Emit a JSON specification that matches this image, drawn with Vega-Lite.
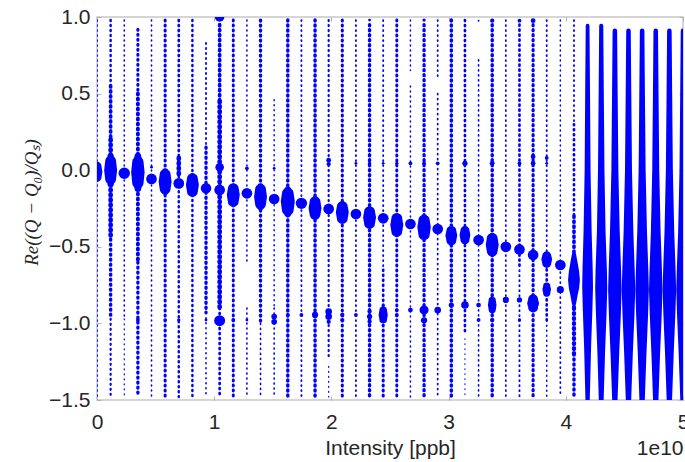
{
 "$schema": "https://vega.github.io/schema/vega-lite/v6.json",
 "width": 586, "height": 383,
 "autosize": {"type": "none"},
 "padding": {"left": 97, "top": 17, "right": 2, "bottom": 62},
 "background": "white",
 "config": {
  "view": {"stroke": "#c8c8c8", "strokeWidth": 1.5},
  "axis": {"grid": false, "domain": false, "labelFlush": false, "labelOverlap": false, "labelFont": "Liberation Sans, Arial, sans-serif", "labelFontSize": 21, "labelColor": "#262626", "titleFont": "Liberation Sans, Arial, sans-serif", "titleFontSize": 21, "titleColor": "#262626", "titleFontWeight": "normal", "tickColor": "#b0b0b0", "tickSize": -4, "tickWidth": 1}
 },
 "datasets": {
  "seg": [
   {"x":0,"y":0.98,"y2":-1.48,"n":15},
   {"x":0.1163,"y":0.98,"y2":0.55,"n":20},{"x":0.1163,"y":0.55,"y2":0.2,"n":30},{"x":0.1163,"y":0.2,"y2":-0.45,"n":38},{"x":0.1163,"y":-0.45,"y2":-0.97,"n":28},{"x":0.1163,"y":-0.97,"y2":-1.48,"n":18},
   {"x":0.2326,"y":0.98,"y2":-0.97,"n":13},{"x":0.2326,"y":-0.97,"y2":-1.48,"n":10},
   {"x":0.3488,"y":0.92,"y2":0.5,"n":25},{"x":0.3488,"y":0.5,"y2":-0.6,"n":32},{"x":0.3488,"y":-0.6,"y2":-1.48,"n":27},
   {"x":0.4651,"y":0.98,"y2":-1.48,"n":13},
   {"x":0.5814,"y":0.98,"y2":-1.48,"n":25},
   {"x":0.6977,"y":0.98,"y2":0.08,"n":22},{"x":0.6977,"y":0.08,"y2":-0.04,"n":38},{"x":0.6977,"y":-0.04,"y2":-1.48,"n":20},
   {"x":0.814,"y":0.98,"y2":-1.48,"n":20},
   {"x":0.9302,"y":0.83,"y2":0.15,"n":15},{"x":0.9302,"y":0.15,"y2":-0.93,"n":27},{"x":0.9302,"y":-0.93,"y2":-1.48,"n":13},
   {"x":1.0465,"y":0.95,"y2":0.45,"n":30},{"x":1.0465,"y":0.45,"y2":-0.9,"n":38},{"x":1.0465,"y":-0.9,"y2":-1.48,"n":22},
   {"x":1.1628,"y":0.98,"y2":-1.48,"n":24},
   {"x":1.2791,"y":0.98,"y2":-0.6,"n":13},{"x":1.2791,"y":-0.9,"y2":-1.48,"n":13},
   {"x":1.3953,"y":0.98,"y2":-1.0,"n":27},{"x":1.3953,"y":-1.0,"y2":-1.48,"n":13},
   {"x":1.5116,"y":0.46,"y2":-0.9,"n":12},{"x":1.5116,"y":-0.9,"y2":-1.48,"n":13},
   {"x":1.6279,"y":0.98,"y2":-1.48,"n":28},
   {"x":1.7442,"y":0.98,"y2":-1.48,"n":15},
   {"x":1.8605,"y":0.98,"y2":-1.48,"n":28},
   {"x":1.9767,"y":0.98,"y2":-1.22,"n":18},{"x":1.9767,"y":-1.28,"y2":-1.48,"n":10},
   {"x":2.093,"y":0.98,"y2":-1.48,"n":25},
   {"x":2.2093,"y":0.98,"y2":-1.48,"n":15},
   {"x":2.3256,"y":0.95,"y2":-1.48,"n":28},
   {"x":2.4419,"y":0.98,"y2":-0.65,"n":15},{"x":2.4419,"y":-0.65,"y2":-0.88,"n":22},{"x":2.4419,"y":-0.88,"y2":-1.48,"n":25},
   {"x":2.5581,"y":0.98,"y2":-1.48,"n":24},
   {"x":2.6744,"y":0.98,"y2":0.65,"n":12},{"x":2.6744,"y":0.55,"y2":-1.48,"n":12},
   {"x":2.7907,"y":0.95,"y2":-1.48,"n":27},
   {"x":2.907,"y":0.98,"y2":0.6,"n":14},{"x":2.907,"y":0.5,"y2":-1.48,"n":14},
   {"x":3.0233,"y":0.98,"y2":-1.48,"n":28},
   {"x":3.1395,"y":0.98,"y2":-1.05,"n":22},{"x":3.1395,"y":-1.1,"y2":-1.48,"n":8},
   {"x":3.2558,"y":0.72,"y2":-1.48,"n":13},
   {"x":3.3721,"y":0.95,"y2":-1.48,"n":28},
   {"x":3.4884,"y":0.98,"y2":-1.48,"n":14},
   {"x":3.6047,"y":0.95,"y2":-0.62,"n":22},{"x":3.6047,"y":-0.62,"y2":-1.48,"n":15},
   {"x":3.7209,"y":0.95,"y2":-1.48,"n":26},
   {"x":3.8372,"y":0.98,"y2":-0.55,"n":15},{"x":3.8372,"y":-0.55,"y2":-0.98,"n":22},{"x":3.8372,"y":-0.98,"y2":-1.48,"n":12},
   {"x":3.9535,"y":0.98,"y2":-0.6,"n":12},{"x":3.9535,"y":-0.6,"y2":-1.48,"n":14},
   {"x":4.0698,"y":0.98,"y2":0.3,"n":15},{"x":4.0698,"y":0.3,"y2":-0.3,"n":22},{"x":4.0698,"y":-0.3,"y2":-0.9,"n":30},{"x":4.0698,"y":-0.9,"y2":-1.2,"n":35},{"x":4.0698,"y":-1.2,"y2":-1.48,"n":28}
  ],
  "trail": [
   {"g":"c0","x":0,"y":0.04,"n":50},{"g":"c0","x":0,"y":0.026,"n":84},{"g":"c0","x":0,"y":-0.01,"n":100},{"g":"c0","x":0,"y":-0.046,"n":84},{"g":"c0","x":0,"y":-0.059,"n":50},
   {"g":"c1","x":0.1163,"y":0.09,"n":60},{"g":"c1","x":0.1163,"y":0.06,"n":101},{"g":"c1","x":0.1163,"y":0.0,"n":120},{"g":"c1","x":0.1163,"y":-0.059,"n":101},{"g":"c1","x":0.1163,"y":-0.088,"n":60},
   {"g":"c3","x":0.3488,"y":0.09,"n":62},{"g":"c3","x":0.3488,"y":0.054,"n":105},{"g":"c3","x":0.3488,"y":-0.014,"n":125},{"g":"c3","x":0.3488,"y":-0.083,"n":105},{"g":"c3","x":0.3488,"y":-0.12,"n":62},
   {"g":"c5","x":0.5814,"y":-0.008,"n":60},{"g":"c5","x":0.5814,"y":-0.027,"n":101},{"g":"c5","x":0.5814,"y":-0.075,"n":120},{"g":"c5","x":0.5814,"y":-0.122,"n":101},{"g":"c5","x":0.5814,"y":-0.14,"n":60},
   {"g":"c7","x":0.814,"y":-0.04,"n":60},{"g":"c7","x":0.814,"y":-0.055,"n":101},{"g":"c7","x":0.814,"y":-0.097,"n":120},{"g":"c7","x":0.814,"y":-0.139,"n":101},{"g":"c7","x":0.814,"y":-0.153,"n":60},
   {"g":"c10","x":1.1628,"y":-0.106,"n":60},{"g":"c10","x":1.1628,"y":-0.12,"n":101},{"g":"c10","x":1.1628,"y":-0.162,"n":120},{"g":"c10","x":1.1628,"y":-0.204,"n":101},{"g":"c10","x":1.1628,"y":-0.218,"n":60},
   {"g":"c12","x":1.3953,"y":-0.106,"n":60},{"g":"c12","x":1.3953,"y":-0.125,"n":101},{"g":"c12","x":1.3953,"y":-0.173,"n":120},{"g":"c12","x":1.3953,"y":-0.221,"n":101},{"g":"c12","x":1.3953,"y":-0.24,"n":60},
   {"g":"c14","x":1.6279,"y":-0.129,"n":65},{"g":"c14","x":1.6279,"y":-0.152,"n":109},{"g":"c14","x":1.6279,"y":-0.205,"n":130},{"g":"c14","x":1.6279,"y":-0.259,"n":109},{"g":"c14","x":1.6279,"y":-0.283,"n":65},
   {"g":"c16","x":1.8605,"y":-0.19,"n":60},{"g":"c16","x":1.8605,"y":-0.206,"n":101},{"g":"c16","x":1.8605,"y":-0.249,"n":120},{"g":"c16","x":1.8605,"y":-0.288,"n":101},{"g":"c16","x":1.8605,"y":-0.3,"n":60},
   {"g":"c18","x":2.093,"y":-0.225,"n":60},{"g":"c18","x":2.093,"y":-0.237,"n":101},{"g":"c18","x":2.093,"y":-0.275,"n":120},{"g":"c18","x":2.093,"y":-0.315,"n":101},{"g":"c18","x":2.093,"y":-0.327,"n":60},
   {"g":"c20","x":2.3256,"y":-0.258,"n":60},{"g":"c20","x":2.3256,"y":-0.27,"n":101},{"g":"c20","x":2.3256,"y":-0.308,"n":120},{"g":"c20","x":2.3256,"y":-0.348,"n":101},{"g":"c20","x":2.3256,"y":-0.36,"n":60},
   {"g":"c21b","x":2.4419,"y":-0.904,"n":43},{"g":"c21b","x":2.4419,"y":-0.915,"n":71},{"g":"c21b","x":2.4419,"y":-0.945,"n":85},{"g":"c21b","x":2.4419,"y":-0.975,"n":71},{"g":"c21b","x":2.4419,"y":-0.986,"n":43},
   {"g":"c22","x":2.5581,"y":-0.3,"n":60},{"g":"c22","x":2.5581,"y":-0.315,"n":101},{"g":"c22","x":2.5581,"y":-0.358,"n":120},{"g":"c22","x":2.5581,"y":-0.4,"n":101},{"g":"c22","x":2.5581,"y":-0.414,"n":60},
   {"g":"c24","x":2.7907,"y":-0.31,"n":62},{"g":"c24","x":2.7907,"y":-0.327,"n":105},{"g":"c24","x":2.7907,"y":-0.373,"n":125},{"g":"c24","x":2.7907,"y":-0.419,"n":105},{"g":"c24","x":2.7907,"y":-0.436,"n":62},
   {"g":"c26","x":3.0233,"y":-0.388,"n":55},{"g":"c26","x":3.0233,"y":-0.396,"n":92},{"g":"c26","x":3.0233,"y":-0.427,"n":110},{"g":"c26","x":3.0233,"y":-0.459,"n":92},{"g":"c26","x":3.0233,"y":-0.467,"n":55},
   {"g":"c27","x":3.1395,"y":-0.386,"n":50},{"g":"c27","x":3.1395,"y":-0.394,"n":84},{"g":"c27","x":3.1395,"y":-0.423,"n":100},{"g":"c27","x":3.1395,"y":-0.454,"n":84},{"g":"c27","x":3.1395,"y":-0.464,"n":50},
   {"g":"c29","x":3.3721,"y":-0.43,"n":60},{"g":"c29","x":3.3721,"y":-0.445,"n":101},{"g":"c29","x":3.3721,"y":-0.488,"n":120},{"g":"c29","x":3.3721,"y":-0.528,"n":101},{"g":"c29","x":3.3721,"y":-0.54,"n":60},
   {"g":"c29b","x":3.3721,"y":-0.839,"n":40},{"g":"c29b","x":3.3721,"y":-0.85,"n":67},{"g":"c29b","x":3.3721,"y":-0.88,"n":80},{"g":"c29b","x":3.3721,"y":-0.91,"n":67},{"g":"c29b","x":3.3721,"y":-0.921,"n":40},
   {"g":"c32b","x":3.7209,"y":-0.838,"n":55},{"g":"c32b","x":3.7209,"y":-0.842,"n":92},{"g":"c32b","x":3.7209,"y":-0.869,"n":110},{"g":"c32b","x":3.7209,"y":-0.897,"n":92},{"g":"c32b","x":3.7209,"y":-0.902,"n":55},
   {"g":"c33","x":3.8372,"y":-0.556,"n":50},{"g":"c33","x":3.8372,"y":-0.559,"n":84},{"g":"c33","x":3.8372,"y":-0.582,"n":100},{"g":"c33","x":3.8372,"y":-0.608,"n":84},{"g":"c33","x":3.8372,"y":-0.614,"n":50},
   {"g":"c33b","x":3.8372,"y":-0.753,"n":40},{"g":"c33b","x":3.8372,"y":-0.757,"n":67},{"g":"c33b","x":3.8372,"y":-0.777,"n":80},{"g":"c33b","x":3.8372,"y":-0.801,"n":67},{"g":"c33b","x":3.8372,"y":-0.807,"n":40},
   {"g":"c35","x":4.0698,"y":-0.55,"n":40},{"g":"c35","x":4.0698,"y":-0.6,"n":65},{"g":"c35","x":4.0698,"y":-0.66,"n":95},{"g":"c35","x":4.0698,"y":-0.717,"n":110},{"g":"c35","x":4.0698,"y":-0.77,"n":95},{"g":"c35","x":4.0698,"y":-0.82,"n":65},{"g":"c35","x":4.0698,"y":-0.87,"n":40},
   {"g":"c36","x":4.186,"y":0.943,"n":35},{"g":"c36","x":4.186,"y":0.5,"n":45},{"g":"c36","x":4.186,"y":0.0,"n":55},{"g":"c36","x":4.186,"y":-0.4,"n":75},{"g":"c36","x":4.186,"y":-0.65,"n":95},{"g":"c36","x":4.186,"y":-0.76,"n":100},{"g":"c36","x":4.186,"y":-0.9,"n":90},{"g":"c36","x":4.186,"y":-1.15,"n":65},{"g":"c36","x":4.186,"y":-1.5,"n":40},
   {"g":"c37","x":4.3023,"y":0.943,"n":38},{"g":"c37","x":4.3023,"y":0.5,"n":48},{"g":"c37","x":4.3023,"y":0.0,"n":60},{"g":"c37","x":4.3023,"y":-0.4,"n":80},{"g":"c37","x":4.3023,"y":-0.65,"n":105},{"g":"c37","x":4.3023,"y":-0.77,"n":112},{"g":"c37","x":4.3023,"y":-0.92,"n":100},{"g":"c37","x":4.3023,"y":-1.2,"n":70},{"g":"c37","x":4.3023,"y":-1.5,"n":45},
   {"g":"c38","x":4.4186,"y":0.91,"n":42},{"g":"c38","x":4.4186,"y":0.5,"n":52},{"g":"c38","x":4.4186,"y":0.0,"n":65},{"g":"c38","x":4.4186,"y":-0.4,"n":90},{"g":"c38","x":4.4186,"y":-0.65,"n":115},{"g":"c38","x":4.4186,"y":-0.78,"n":125},{"g":"c38","x":4.4186,"y":-0.95,"n":110},{"g":"c38","x":4.4186,"y":-1.2,"n":80},{"g":"c38","x":4.4186,"y":-1.5,"n":50},
   {"g":"c39","x":4.5349,"y":0.91,"n":42},{"g":"c39","x":4.5349,"y":0.5,"n":52},{"g":"c39","x":4.5349,"y":0.0,"n":65},{"g":"c39","x":4.5349,"y":-0.4,"n":90},{"g":"c39","x":4.5349,"y":-0.65,"n":115},{"g":"c39","x":4.5349,"y":-0.78,"n":125},{"g":"c39","x":4.5349,"y":-0.95,"n":110},{"g":"c39","x":4.5349,"y":-1.2,"n":80},{"g":"c39","x":4.5349,"y":-1.5,"n":50},
   {"g":"c40","x":4.6512,"y":0.91,"n":42},{"g":"c40","x":4.6512,"y":0.5,"n":52},{"g":"c40","x":4.6512,"y":0.0,"n":65},{"g":"c40","x":4.6512,"y":-0.4,"n":90},{"g":"c40","x":4.6512,"y":-0.65,"n":115},{"g":"c40","x":4.6512,"y":-0.78,"n":125},{"g":"c40","x":4.6512,"y":-0.95,"n":110},{"g":"c40","x":4.6512,"y":-1.2,"n":80},{"g":"c40","x":4.6512,"y":-1.5,"n":50},
   {"g":"c41","x":4.7674,"y":0.91,"n":42},{"g":"c41","x":4.7674,"y":0.5,"n":52},{"g":"c41","x":4.7674,"y":0.0,"n":65},{"g":"c41","x":4.7674,"y":-0.4,"n":90},{"g":"c41","x":4.7674,"y":-0.65,"n":115},{"g":"c41","x":4.7674,"y":-0.78,"n":125},{"g":"c41","x":4.7674,"y":-0.95,"n":110},{"g":"c41","x":4.7674,"y":-1.2,"n":80},{"g":"c41","x":4.7674,"y":-1.5,"n":50},
   {"g":"c42","x":4.8837,"y":0.91,"n":42},{"g":"c42","x":4.8837,"y":0.5,"n":52},{"g":"c42","x":4.8837,"y":0.0,"n":65},{"g":"c42","x":4.8837,"y":-0.4,"n":90},{"g":"c42","x":4.8837,"y":-0.65,"n":115},{"g":"c42","x":4.8837,"y":-0.78,"n":125},{"g":"c42","x":4.8837,"y":-0.95,"n":110},{"g":"c42","x":4.8837,"y":-1.2,"n":80},{"g":"c42","x":4.8837,"y":-1.5,"n":50},
   {"g":"c43","x":5,"y":0.91,"n":42},{"g":"c43","x":5,"y":0.5,"n":52},{"g":"c43","x":5,"y":0.0,"n":65},{"g":"c43","x":5,"y":-0.4,"n":90},{"g":"c43","x":5,"y":-0.65,"n":115},{"g":"c43","x":5,"y":-0.78,"n":125},{"g":"c43","x":5,"y":-0.95,"n":110},{"g":"c43","x":5,"y":-1.2,"n":80},{"g":"c43","x":5,"y":-1.5,"n":50}
  ],
  "blob": [
   {"x":0.2326,"y":-0.02,"n":120},
   {"x":0.3488,"y":-0.978,"n":40},
   {"x":0.4651,"y":0.02,"n":30},{"x":0.4651,"y":-0.057,"n":112},
   {"x":0.5814,"y":-0.978,"n":35},
   {"x":0.6977,"y":-0.086,"n":112},{"x":0.6977,"y":-0.978,"n":35},
   {"x":0.9302,"y":-0.118,"n":110},{"x":0.9302,"y":-0.978,"n":30},
   {"x":1.0465,"y":1.0,"n":100},{"x":1.0465,"y":0.019,"n":90},{"x":1.0465,"y":-0.129,"n":112},{"x":1.0465,"y":-0.982,"n":115},
   {"x":1.1628,"y":-0.978,"n":40},
   {"x":1.2791,"y":0.012,"n":40},{"x":1.2791,"y":-0.151,"n":112},{"x":1.2791,"y":-0.978,"n":30},
   {"x":1.5116,"y":0.012,"n":30},{"x":1.5116,"y":-0.188,"n":112},{"x":1.5116,"y":-0.955,"n":60},{"x":1.5116,"y":-0.99,"n":60},
   {"x":1.6279,"y":-0.945,"n":40},
   {"x":1.7442,"y":-0.216,"n":118},{"x":1.7442,"y":-0.945,"n":40},
   {"x":1.8605,"y":-0.945,"n":65},
   {"x":1.9767,"y":0.065,"n":50},{"x":1.9767,"y":0.04,"n":45},{"x":1.9767,"y":-0.253,"n":112},{"x":1.9767,"y":-0.923,"n":70},{"x":1.9767,"y":-0.955,"n":70},{"x":1.9767,"y":-0.99,"n":45},
   {"x":2.093,"y":-0.945,"n":45},{"x":2.093,"y":-0.978,"n":45},
   {"x":2.2093,"y":0.045,"n":30},{"x":2.2093,"y":-0.286,"n":112},{"x":2.2093,"y":-0.945,"n":40},
   {"x":2.3256,"y":0.98,"n":30},{"x":2.3256,"y":0.045,"n":35},{"x":2.3256,"y":-0.923,"n":45},{"x":2.3256,"y":-0.955,"n":55},{"x":2.3256,"y":-0.99,"n":45},
   {"x":2.4419,"y":0.045,"n":30},{"x":2.4419,"y":-0.314,"n":112},
   {"x":2.5581,"y":0.045,"n":35},{"x":2.5581,"y":-0.913,"n":40},{"x":2.5581,"y":-0.945,"n":40},
   {"x":2.6744,"y":0.045,"n":40},{"x":2.6744,"y":-0.351,"n":112},{"x":2.6744,"y":-0.913,"n":50},
   {"x":2.7907,"y":0.98,"n":35},{"x":2.7907,"y":0.045,"n":40},{"x":2.7907,"y":-0.913,"n":95},{"x":2.7907,"y":-0.98,"n":65},
   {"x":2.907,"y":0.045,"n":40},{"x":2.907,"y":-0.384,"n":112},{"x":2.907,"y":-0.913,"n":70},
   {"x":3.0233,"y":-0.88,"n":55},
   {"x":3.1395,"y":0.045,"n":55},{"x":3.1395,"y":-0.88,"n":80},
   {"x":3.2558,"y":0.976,"n":20},{"x":3.2558,"y":-0.456,"n":112},{"x":3.2558,"y":-0.88,"n":50},{"x":3.2558,"y":-0.978,"n":40},
   {"x":3.3721,"y":0.976,"n":45},{"x":3.3721,"y":0.045,"n":50},{"x":3.3721,"y":-0.978,"n":45},
   {"x":3.4884,"y":-0.5,"n":112},{"x":3.4884,"y":-0.847,"n":65},
   {"x":3.6047,"y":0.976,"n":40},{"x":3.6047,"y":0.045,"n":40},{"x":3.6047,"y":-0.517,"n":112},{"x":3.6047,"y":-0.847,"n":55},{"x":3.6047,"y":-0.978,"n":35},
   {"x":3.7209,"y":0.976,"n":50},{"x":3.7209,"y":0.088,"n":50},{"x":3.7209,"y":0.045,"n":50},{"x":3.7209,"y":-0.553,"n":112},
   {"x":3.8372,"y":0.08,"n":40},{"x":3.8372,"y":0.045,"n":30},
   {"x":3.9535,"y":-0.619,"n":112},{"x":3.9535,"y":-0.78,"n":75}
  ]
 },
 "resolve": {"scale": {"size": "independent"}, "axis": {"x": "independent", "y": "independent"}},
 "layer": [
  {
   "data": {"name": "seg"},
   "mark": {"type": "rule", "color": "#0000ff", "strokeDash": [1, 4], "strokeCap": "round", "clip": true},
   "encoding": {
    "x": {"field": "x", "type": "quantitative", "scale": {"domain": [0, 5], "nice": false, "zero": false},
          "axis": {"values": [0, 1, 2, 3, 4, 5], "format": "d", "title": "Intensity [ppb]", "titleY": 54, "titleBaseline": "alphabetic", "labelPadding": 15}},
    "y": {"field": "y", "type": "quantitative", "scale": {"domain": [-1.5, 1], "nice": false, "zero": false},
          "axis": {"values": [-1.5, -1, -0.5, 0, 0.5, 1], "format": ".1f", "labelPadding": 11, "title": "Re((Q − Q₀)/Qₛ)", "titleFont": "Liberation Serif", "titleFontStyle": "italic", "titleFontSize": 19, "titleX": -66, "titleY": 185, "titleBaseline": "middle"}},
    "y2": {"field": "y2"},
    "size": {"field": "n", "type": "quantitative", "scale": {"type": "linear", "domain": [0, 130], "range": [0, 16]}, "legend": null}
   }
  },
  {
   "data": {"name": "trail"},
   "mark": {"type": "trail", "color": "#0000ff", "clip": true},
   "encoding": {
    "x": {"field": "x", "type": "quantitative", "scale": {"domain": [0, 5], "nice": false, "zero": false}, "axis": {"orient": "top", "labels": false, "title": null, "values": [0, 1, 2, 3, 4, 5]}},
    "y": {"field": "y", "type": "quantitative", "scale": {"domain": [-1.5, 1], "nice": false, "zero": false}, "axis": null},
    "detail": {"field": "g"},
    "order": {"field": "y", "type": "quantitative"},
    "size": {"field": "n", "type": "quantitative", "scale": {"type": "linear", "domain": [0, 130], "range": [0, 14]}, "legend": null}
   }
  },
  {
   "data": {"name": "blob"},
   "mark": {"type": "circle", "color": "#0000ff", "opacity": 1, "clip": true},
   "encoding": {
    "x": {"field": "x", "type": "quantitative", "scale": {"domain": [0, 5], "nice": false, "zero": false}, "axis": {"orient": "bottom", "labels": false, "ticks": false, "title": "1e10", "titleX": 586, "titleY": 54, "titleAlign": "right", "titleAnchor": "end", "titleBaseline": "alphabetic"}},
    "y": {"field": "y", "type": "quantitative", "scale": {"domain": [-1.5, 1], "nice": false, "zero": false}, "axis": {"orient": "right", "labels": false, "title": null, "values": [-1.5, -1, -0.5, 0, 0.5, 1]}},
    "size": {"field": "n", "type": "quantitative", "scale": {"type": "pow", "exponent": 2, "domain": [0, 130], "range": [0, 153.9]}, "legend": null}
   }
  }
 ]
}
